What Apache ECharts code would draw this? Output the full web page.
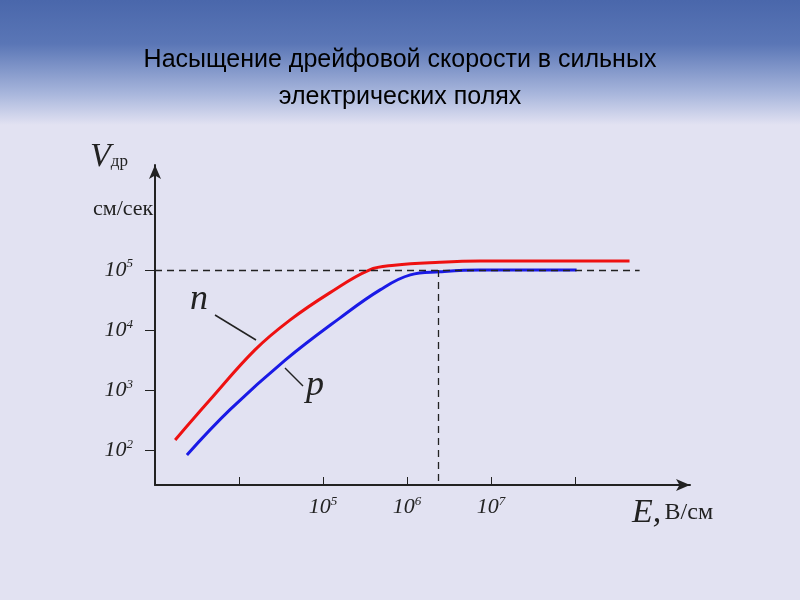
<!DOCTYPE html>
<html lang="ru">
<head>
<meta charset="UTF-8">
<title>Насыщение дрейфовой скорости</title>
<script src="https://cdn.jsdelivr.net/npm/echarts@6/dist/echarts.min.js"></script>
</head>
<body style="margin:0">
<div id="main" style="width:800px;height:600px;"></div>
<script>
// log10 E, log10 V for the two curves
var nE = [3.24, 3.65, 4.19, 4.61, 5.08, 5.55, 5.85, 6.39, 6.87, 8.65];
var nV = [2.17, 2.83, 3.67, 4.17, 4.62, 5.0, 5.08, 5.13, 5.15, 5.15];
var pE = [3.38, 3.89, 4.55, 5.2, 5.68, 6.04, 6.39, 6.87, 8.02];
var pV = [1.92, 2.67, 3.5, 4.2, 4.67, 4.92, 4.97, 5.0, 5.0];
var xTicks = [4, 5, 6, 7, 8];
var xLabelled = [5, 6, 7];
var yTicks = [2, 3, 4, 5];

function pairs(a, b) { return a.map(function (v, i) { return [v, b[i]]; }); }
var serif = 'Liberation Serif';
var rich = {
  b: { fontFamily: serif, fontStyle: 'italic', fontSize: 22, color: '#222' },
  s: { fontFamily: serif, fontStyle: 'italic', fontSize: 13, color: '#222', verticalAlign: 'top', padding: [0, 0, 12, 0] }
};

var myChart = echarts.init(document.getElementById('main'));
myChart.setOption({
  animation: false,
  backgroundColor: '#e2e2f2',
  graphic: [
    { type: 'rect', shape: { x: 0, y: 0, width: 800, height: 125 }, z: -10,
      style: { fill: new echarts.graphic.LinearGradient(0, 0, 0, 1, [
        { offset: 0, color: '#4a67ab' }, { offset: 0.35, color: '#5a76b6' }, { offset: 0.75, color: '#a8b6dc' }, { offset: 1, color: '#e2e2f2' }]) } },
    { type: 'text', x: 400, y: 42, style: { text: 'Насыщение дрейфовой скорости в сильных\nэлектрических полях',
      font: '25px "Liberation Sans"', fill: '#000', align: 'center', lineHeight: 37 } },
    { type: 'text', x: 90, y: 140, style: { text: '{v|V}{d|др}', rich: {
      v: { fontFamily: serif, fontStyle: 'italic', fontSize: 34, fill: '#222' },
      d: { fontFamily: serif, fontSize: 17, fill: '#222', padding: [10, 0, 0, 0] } } } },
    { type: 'text', x: 93, y: 198, style: { text: 'см/сек', font: '22px "Liberation Serif"', fill: '#222' } },
    { type: 'text', x: 632, y: 496, style: { text: '{e|E,} {u|В/см}', rich: {
      e: { fontFamily: serif, fontStyle: 'italic', fontSize: 34, fill: '#222' },
      u: { fontFamily: serif, fontSize: 24, fill: '#222' } } } },
    { type: 'text', x: 190, y: 282, style: { text: 'n', font: 'italic 36px "Liberation Serif"', fill: '#222' } },
    { type: 'line', shape: { x1: 215, y1: 315, x2: 256, y2: 340 }, style: { stroke: '#222', lineWidth: 1.5 } },
    { type: 'text', x: 306, y: 368, style: { text: 'p', font: 'italic 36px "Liberation Serif"', fill: '#222' } },
    { type: 'line', shape: { x1: 285, y1: 368, x2: 303, y2: 386 }, style: { stroke: '#222', lineWidth: 1.5 } }
  ],
  grid: { left: 155, top: 165, width: 535, height: 320 },
  xAxis: {
    type: 'value', min: 3, max: 9.37, splitLine: { show: false },
    axisLine: { lineStyle: { color: '#222', width: 2 }, symbol: ['none', 'arrow'], symbolSize: [9, 14] },
    axisTick: { inside: true, length: 8, lineStyle: { color: '#222' }, customValues: xTicks },
    axisLabel: { customValues: xLabelled, margin: 10, rich: rich,
      formatter: function (v) { return '{b|10}{s|' + v + '}'; } }
  },
  yAxis: {
    type: 'value', min: 1.42, max: 6.75, splitLine: { show: false },
    axisLine: { lineStyle: { color: '#222', width: 2 }, symbol: ['none', 'arrow'], symbolSize: [9, 14] },
    axisTick: { length: 10, lineStyle: { color: '#222' }, customValues: yTicks },
    axisLabel: { customValues: yTicks, margin: 22, rich: rich,
      formatter: function (v) { return '{b|10}{s|' + v + '}'; } }
  },
  series: [
    { type: 'line', data: pairs(nE, nV), smooth: 0.4, showSymbol: false,
      lineStyle: { color: '#ee1111', width: 3 },
      markLine: { silent: true, symbol: 'none', label: { show: false },
        lineStyle: { color: '#222', type: [7, 5], width: 1.3 },
        data: [
          [{ coord: [3, 5] }, { coord: [8.77, 5] }],
          [{ coord: [6.37, 5] }, { coord: [6.37, 1.42] }]
        ] } },
    { type: 'line', data: pairs(pE, pV), smooth: 0.4, showSymbol: false,
      lineStyle: { color: '#1a1ae6', width: 3 } }
  ]
});
</script>
</body>
</html>
